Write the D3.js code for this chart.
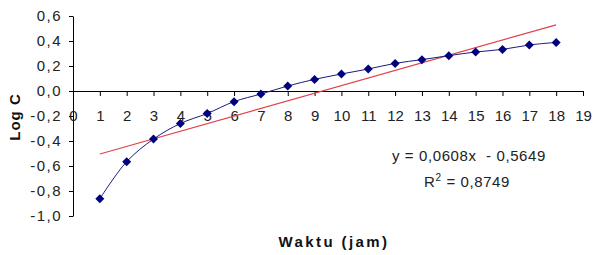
<!DOCTYPE html>
<html>
<head>
<meta charset="utf-8">
<script src="https://cdn.jsdelivr.net/npm/d3@7"></script>
<style>
  body { margin: 0; background: #fff; }
  text { font-family: "Liberation Sans", Arial, sans-serif; }
</style>
</head>
<body>
<div id="chart"></div>
<script>

// jam (hours)
var waktu = [1, 2, 3, 4, 5, 6, 7, 8, 9, 10, 11, 12, 13, 14, 15, 16, 17, 18];
// log C values
var logC = [-0.862, -0.565, -0.384, -0.26, -0.18, -0.085, -0.024, 0.04, 0.093, 0.136,
            0.176, 0.221, 0.251, 0.283, 0.312, 0.333, 0.368, 0.389];

var xTicks = [0, 1, 2, 3, 4, 5, 6, 7, 8, 9, 10, 11, 12, 13, 14, 15, 16, 17, 18, 19];
var yTicks = [0.6, 0.4, 0.2, 0.0, -0.2, -0.4, -0.6, -0.8, -1.0];

// linear trend from the chart
var slope = 0.0608, intercept = -0.5649;
var eqLabel = "y = 0,0608x  - 0,5649";
var r2Label = "0,8749";

var width = 594, height = 255;

var svg = d3.select("#chart")
  .append("svg")
    .attr("width", width)
    .attr("height", height);

var x = d3.scaleLinear()
  .domain([0, 19])
  .range([73, 583]);

var y = d3.scaleLinear()
  .domain([-1.0, 0.6])
  .range([216, 16]);

var fmt = function(d) { return d3.format(".1f")(d).replace(".", ",").replace("−", "-"); };

// Y axis
var yAxis = svg.append("g")
  .attr("transform", "translate(" + x(0) + ",0)")
  .call(d3.axisLeft(y)
    .tickValues(yTicks)
    .tickFormat(fmt)
    .tickSize(4)
    .tickSizeOuter(0)
    .tickPadding(7));
yAxis.selectAll("text")
  .style("font-size", "15px")
  .style("letter-spacing", "1.5px")
  .attr("fill", "#222");

// X axis sits at y = 0
var xAxis = svg.append("g")
  .attr("transform", "translate(0," + y(0) + ")")
  .call(d3.axisBottom(x)
    .tickValues(xTicks)
    .tickFormat(d3.format("d"))
    .tickSize(5)
    .tickSizeOuter(0)
    .tickPadding(14));
xAxis.selectAll("text")
  .style("font-size", "15px")
  .attr("fill", "#222");

svg.selectAll(".domain, .tick line").attr("stroke", "#000");

// trend line
svg.append("line")
  .attr("x1", x(waktu[0]))
  .attr("y1", y(slope * waktu[0] + intercept))
  .attr("x2", x(waktu[waktu.length - 1]))
  .attr("y2", y(slope * waktu[waktu.length - 1] + intercept))
  .attr("stroke", "#e2404a")
  .attr("stroke-width", 1.2);

// data series
var pts = waktu.map(function(d, i) { return [d, logC[i]]; });

svg.append("path")
  .datum(pts)
  .attr("fill", "none")
  .attr("stroke", "#1a1a80")
  .attr("stroke-width", 1)
  .attr("d", d3.line()
    .curve(d3.curveCatmullRom)
    .x(function(d) { return x(d[0]); })
    .y(function(d) { return y(d[1]); }));

svg.selectAll(".marker")
  .data(pts)
  .enter().append("path")
    .attr("class", "marker")
    .attr("transform", function(d) { return "translate(" + x(d[0]) + "," + y(d[1]) + ")"; })
    .attr("d", "M0,-4.5L4.5,0L0,4.5L-4.5,0Z")
    .attr("fill", "#000080");

// regression text
svg.append("text")
  .attr("x", 392)
  .attr("y", 161)
  .style("font-size", "15px")
  .style("letter-spacing", "0.6px")
  .attr("fill", "#222")
  .attr("xml:space", "preserve")
  .text(eqLabel);

var r2 = svg.append("text")
  .attr("x", 424)
  .attr("y", 187)
  .style("font-size", "15px")
  .style("letter-spacing", "0.6px")
  .attr("fill", "#222");
r2.append("tspan").text("R");
r2.append("tspan").attr("dy", -6).style("font-size", "10px").text("2");
r2.append("tspan").attr("dy", 6).text(" = " + r2Label);

// axis titles
svg.append("text")
  .attr("transform", "translate(20,117) rotate(-90)")
  .attr("text-anchor", "middle")
  .style("font-size", "15px")
  .style("font-weight", "bold")
  .style("letter-spacing", "1px")
  .attr("fill", "#111")
  .text("Log C");

svg.append("text")
  .attr("x", 334)
  .attr("y", 247)
  .attr("text-anchor", "middle")
  .style("font-size", "15px")
  .style("font-weight", "bold")
  .style("letter-spacing", "2.4px")
  .attr("fill", "#111")
  .text("Waktu (jam)");

</script>
</body>
</html>
